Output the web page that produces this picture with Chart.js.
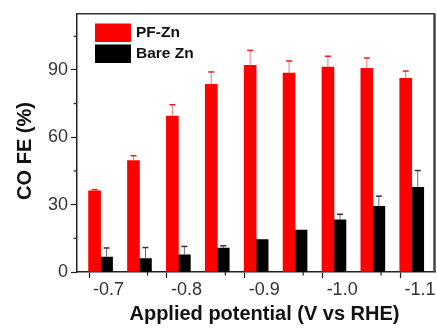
<!DOCTYPE html>
<html>
<head>
<meta charset="utf-8">
<script src="https://cdn.jsdelivr.net/npm/chart.js@4"></script>
<style>
  html, body { margin: 0; padding: 0; background: #fff; }
  #lienzo { width: 437px; height: 334px; }
</style>
</head>
<body>
<div id="lienzo"><canvas id="grafico"></canvas></div>
<script>
// Potenciales aplicados (V vs RHE)
const potenciales = [-0.70, -0.75, -0.80, -0.85, -0.90, -0.95, -1.00, -1.05, -1.10];
const feConPF = [36.2, 49.6, 69.4, 83.6, 92.0, 88.6, 91.3, 90.7, 86.3];
const errorConPF = [0.5, 2.2, 5.1, 5.5, 6.7, 5.4, 4.8, 4.6, 3.2];
const feSinPF = [6.7, 6.0, 7.7, 10.6, 14.4, 18.7, 23.2, 29.3, 37.7];
const errorSinPF = [4.0, 4.9, 3.7, 1.1, 0, 0, 2.5, 4.5, 7.5];
const etiquetasSerie = ["PF-Zn", "Bare Zn"];
const ticksY = [0, 30, 60, 90];

const fuente = "'Liberation Sans', Arial, sans-serif";

function esMayor(valor, paso) {
  return Math.abs(Math.round(valor * 100)) % paso === 0;
}

// barras de error (solo hacia arriba) y marcas menores
const extras = {
  id: "extras",
  afterDatasetsDraw(chart) {
    const { ctx, scales } = chart;
    const escalaY = scales.y;
    const errores = [errorConPF, errorSinPF];
    const colores = [
      { linea: "#ee7777", tapa: "#e02020" },
      { linea: "#666", tapa: "#333" },
    ];
    ctx.save();
    chart.data.datasets.forEach((ds, d) => {
      const meta = chart.getDatasetMeta(d);
      meta.data.forEach((barra, i) => {
        const err = errores[d][i];
        if (!err) return;
        const yTope = escalaY.getPixelForValue(ds.data[i].y + err);
        ctx.strokeStyle = colores[d].linea;
        ctx.lineWidth = 1;
        ctx.beginPath();
        ctx.moveTo(barra.x, barra.y);
        ctx.lineTo(barra.x, yTope);
        ctx.stroke();
        ctx.strokeStyle = colores[d].tapa;
        ctx.lineWidth = 1.5;
        ctx.beginPath();
        ctx.moveTo(barra.x - 3, yTope);
        ctx.lineTo(barra.x + 3, yTope);
        ctx.stroke();
      });
    });
    ctx.restore();
  },
  afterDraw(chart) {
    const { ctx, chartArea: area, scales } = chart;
    ctx.save();
    // marco superior y derecho
    ctx.strokeStyle = "#333";
    ctx.lineWidth = 1.5;
    ctx.beginPath();
    ctx.moveTo(area.left, area.top);
    ctx.lineTo(area.right, area.top);
    ctx.stroke();
    ctx.strokeStyle = "#444";
    ctx.lineWidth = 2.5;
    ctx.beginPath();
    ctx.moveTo(area.right - 0.5, area.top);
    ctx.lineTo(area.right - 0.5, area.bottom);
    ctx.stroke();

    // marcas menores
    ctx.strokeStyle = "#222";
    ctx.lineWidth = 1.2;
    scales.y.ticks.forEach((t) => {
      if (t.value % 30 === 0) return;
      const y = scales.y.getPixelForValue(t.value);
      ctx.beginPath();
      ctx.moveTo(area.left, y);
      ctx.lineTo(area.left - 3.5, y);
      ctx.stroke();
    });
    scales.xt.ticks.forEach((t) => {
      if (esMayor(t.value, 10)) return;
      const x = scales.xt.getPixelForValue(t.value);
      ctx.beginPath();
      ctx.moveTo(x, area.bottom);
      ctx.lineTo(x, area.bottom + 3.5);
      ctx.stroke();
    });

    // leyenda
    const colores = chart.data.datasets.map((ds) => ds.backgroundColor);
    etiquetasSerie.forEach((texto, i) => {
      const y = 23.5 + i * 21;
      ctx.fillStyle = colores[i];
      ctx.fillRect(95, y, 36, 18.5);
      ctx.fillStyle = "#111";
      ctx.font = `bold 15.5px ${fuente}`;
      ctx.textAlign = "left";
      ctx.textBaseline = "middle";
      ctx.fillText(texto, 136, y + 9.5);
    });

    // títulos de ejes
    ctx.fillStyle = "#111";
    ctx.font = `bold 20px ${fuente}`;
    ctx.textAlign = "center";
    ctx.textBaseline = "alphabetic";
    ctx.fillText("Applied potential (V vs RHE)", 264.5, 320);
    ctx.translate(31, 151);
    ctx.rotate(-Math.PI / 2);
    ctx.fillText("CO FE (%)", 0, 0);
    ctx.restore();
  },
};

new Chart(document.querySelector("#grafico"), {
  type: "bar",
  data: {
    datasets: [
      { label: etiquetasSerie[0], data: potenciales.map((x, i) => ({ x, y: feConPF[i] })), backgroundColor: "#ff0000" },
      { label: etiquetasSerie[1], data: potenciales.map((x, i) => ({ x, y: feSinPF[i] })), backgroundColor: "#000000" },
    ],
  },
  options: {
    responsive: true,
    maintainAspectRatio: false,
    animation: false,
    layout: { padding: { top: 9, right: 2, left: 0, bottom: 0 } },
    barThickness: 12,
    datasets: { bar: { barThickness: 12, grouped: true } },
    plugins: { legend: { display: false }, tooltip: { enabled: false } },
    scales: {
      x: {
        type: "linear",
        display: false,
        reverse: true,
        offset: false,
        min: -1.1299,
        max: -0.6697,
      },
      xt: {
        type: "linear",
        position: "bottom",
        reverse: true,
        offset: false,
        min: -1.1193,
        max: -0.6594,
        afterFit: (escala) => { escala.height = 62; },
        border: { display: true, color: "#222", width: 1.5 },
        grid: {
          drawOnChartArea: false,
          tickLength: 6,
          tickWidth: 1.2,
          color: (c) => (c.tick && esMayor(c.tick.value, 10) ? "#222" : "rgba(0,0,0,0)"),
        },
        ticks: {
          stepSize: 0.05,
          includeBounds: false,
          autoSkip: false,
          maxRotation: 0,
          padding: 1,
          color: "#333",
          font: { family: fuente, size: 18 },
          callback: (v) => (esMayor(v, 10) ? v.toFixed(1) : ""),
        },
      },
      y: {
        min: 0,
        max: 115,
        afterFit: (escala) => { escala.width = 77; },
        border: { display: true, color: "#222", width: 1.5 },
        grid: {
          drawOnChartArea: false,
          tickLength: 6,
          tickWidth: 1.2,
          color: (c) => (c.tick && ticksY.includes(c.tick.value) ? "#222" : "rgba(0,0,0,0)"),
        },
        ticks: {
          stepSize: 15,
          includeBounds: false,
          padding: 3,
          color: "#333",
          font: { family: fuente, size: 18 },
          callback: (v) => (ticksY.includes(v) ? String(v) : ""),
        },
      },
    },
  },
  plugins: [extras],
});
</script>
</body>
</html>
